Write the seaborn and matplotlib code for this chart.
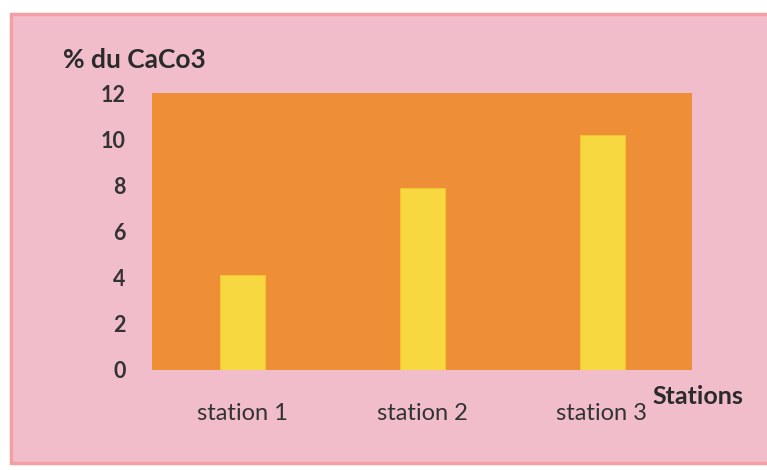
import matplotlib
matplotlib.use("Agg")
import matplotlib.pyplot as plt
from matplotlib.patches import Rectangle
import seaborn as sns
import pandas as pd

stations = ["station 1", "station 2", "station 3"]
caco3 = [4.1, 7.9, 10.2]
yticks = [0, 2, 4, 6, 8, 10, 12]

sns.set_theme(style="white")
plt.rcParams["font.family"] = ["Lato", "DejaVu Sans"]

W, H = 767, 470
fig = plt.figure(figsize=(W / 100, H / 100), dpi=100)
fig.patch.set_facecolor("white")

# pink chart frame, drawn behind the axes
frame = Rectangle((11 / W, 1 - 463 / H), (W - 9) / W, (463 - 14) / H,
                  transform=fig.transFigure, facecolor="#f2bdcb",
                  edgecolor="#f3a0a4", linewidth=2.5, zorder=-5)
fig.add_artist(frame)

ax = fig.add_axes([152 / W, 1 - 370 / H, (692 - 152) / W, (370 - 93) / H])
ax.set_zorder(1)
ax.set_facecolor("#ee8f37")

df = pd.DataFrame({"station": stations, "caco3": caco3})
sns.barplot(data=df, x="station", y="caco3", ax=ax, color="#f8d840",
            width=0.25, saturation=1, edgecolor="#efc530", linewidth=0.8)

ax.set_ylim(0, 12)
ax.set_xlim(-0.5, 2.5)
ax.set_yticks(yticks)
ax.set_yticklabels([str(v) for v in yticks], fontsize=15.5, fontweight="bold", color="#333333")
ax.set_xticks(range(len(stations)))
ax.set_xticklabels(stations, fontsize=17, color="#333333")
ax.tick_params(axis="y", length=8, width=0.6, color="#d8b0b8", pad=11)
ax.tick_params(axis="x", length=0, pad=24)
for s in ax.spines.values():
    s.set_visible(False)
ax.set_xlabel("")
ax.set_ylabel("")

fig.text(63 / W, 1 - 60 / H, "% du CaCo3", fontsize=19, fontweight="bold",
         color="#2a2a2a", ha="left", va="center")
fig.text(698 / W, 1 - 397 / H, "Stations", fontsize=18, fontweight="bold",
         color="#2a2a2a", ha="center", va="center")

fig.savefig("out.png", dpi=100, facecolor=fig.get_facecolor())
